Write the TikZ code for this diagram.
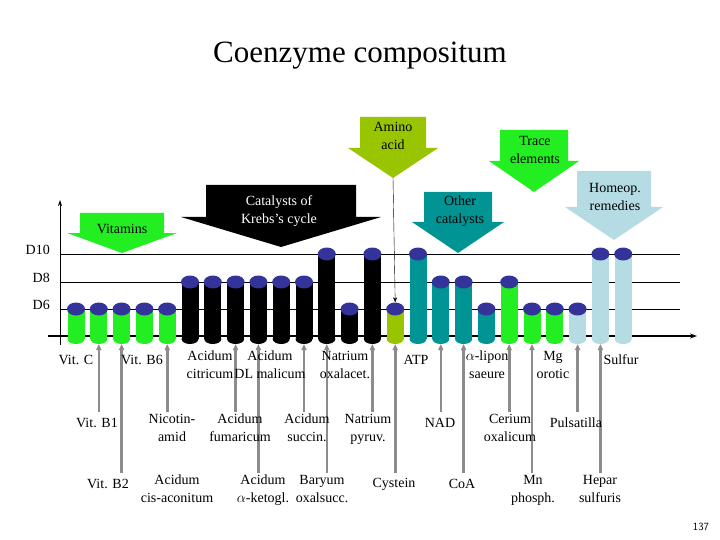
\documentclass[tikz,border=0pt]{standalone}
\usepackage{fontspec}
\setmainfont{Liberation Serif}
\usetikzlibrary{arrows.meta,shapes.geometric}
\definecolor{bgreen}{HTML}{22EE22}
\definecolor{ygreen}{HTML}{99C400}
\definecolor{tealc}{HTML}{009494}
\definecolor{lblue}{HTML}{B4DCE2}
\definecolor{capc}{HTML}{33339A}
\definecolor{garrow}{HTML}{8C8C8C}
\newcommand\blockarr[8]{% name, cx, shaft half, top, head start, head half, tip, color
  \fill[#8] (#2-#3,#4) -- (#2+#3,#4) -- (#2+#3,#5) -- (#2+#6,#5) -- (#2,#7) -- (#2-#6,#5) -- (#2-#3,#5) -- cycle;
  \coordinate (#1) at (#2,#7);}
\tikzset{lbl/.style={font=\fontsize{14}{18}\selectfont, align=center, inner sep=0pt},
  capball/.style={ellipse, fill=capc, minimum width=18pt, minimum height=13pt, inner sep=0pt},
  gup/.style={garrow, line width=2.6pt, -{Triangle[width=5pt,length=6pt]}},
  gridln/.style={line width=0.7pt}}
\begin{document}
\begin{tikzpicture}[x=1pt,y=-1pt]
\useasboundingbox (0,0) rectangle (720,540);
\node[font=\fontsize{31}{36}\selectfont] (title) at (360,56) {Coenzyme compositum};
% block arrows
\blockarr{vit}{122}{42}{213}{233}{55}{253}{bgreen}
\blockarr{kre}{281}{75}{185}{217}{100}{247}{black}
\blockarr{ami}{393}{33}{117}{148}{45}{178}{ygreen}
\blockarr{tra}{534}{34}{130}{161}{45}{192}{bgreen}
\blockarr{oth}{458}{34}{192}{222}{46}{253}{tealc}
\blockarr{hom}{614}{37}{171}{207}{49}{240}{lblue}
\node[lbl] (tvit) at (122,229) {Vitamins};
\node[lbl, text=white] (tkre) at (279,211) {Catalysts of\\Krebs's cycle};
\node[lbl] (tami) at (393,136) {Amino\\acid};
\node[lbl] (ttra) at (535,150) {Trace\\elements};
\node[lbl] (toth) at (460,211) {Other\\catalysts};
\node[lbl] (thom) at (615,197) {Homeop.\\remedies};
% grid and axes
\foreach \yy/\t in {254/D10,282/D8,309/D6}{
  \draw[gridln] (60,\yy) -- (680,\yy);
  \node[lbl, anchor=east] at (50,\yy-4) {\t};}
\coordinate (ytop) at (60,200);
\coordinate (ybot) at (60,345);
\coordinate (xl) at (48,336);
\coordinate (xr) at (697,336);
\draw[line width=0.8pt, -{Stealth[length=6pt,width=4pt]}] (ybot) -- (ytop);
\draw[line width=1.3pt, -{Stealth[length=7pt,width=5pt]}] (xl) -- (xr);
% bars
\foreach \i/\lv/\c in {1/309/bgreen,2/309/bgreen,3/309/bgreen,4/309/bgreen,5/309/bgreen,
  6/282/black,7/282/black,8/282/black,9/282/black,10/282/black,11/282/black,12/254/black,13/309/black,14/254/black,
  15/309/ygreen,16/254/tealc,17/282/tealc,18/282/tealc,19/309/tealc,20/282/bgreen,21/309/bgreen,22/309/bgreen,
  23/309/lblue,24/254/lblue,25/254/lblue}{
  \pgfmathsetmacro\xx{76+(\i-1)*22.8}
  \fill[\c] (\xx-8.5,\lv) rectangle (\xx+8.5,339);
  \fill[\c] (\xx,339) ellipse [x radius=8.5, y radius=5];
  \node[capball] (b\i) at (\xx,\lv) {};}
\draw[-{Stealth[length=5pt,width=4pt]}] (ami) -- (b15.north);
% gray arrows from labels
\foreach \i/\e in {2/412,3/473,5/412,8/412,9/473,11/412,12/473,14/412,15/473,17/412,18/473,20/412,21/473,23/412,24/473}{
  \pgfmathsetmacro\xx{76+(\i-1)*22.8}
  \coordinate (g\i) at (\xx,\e);
  \draw[gup] (g\i) -- (\xx,344);}
% labels row 1
\node[lbl] (l1) at (76,360) {Vit. C};
\node[lbl] (l4) at (142,360) {Vit. B6};
\node[lbl, anchor=north] (l6) at (210,351) {Acidum\\citricum};
\node[lbl, anchor=north] (l10) at (270,351) {Acidum\\DL malicum};
\node[lbl, anchor=north] (l13) at (345,351) {Natrium\\oxalacet.};
\node[lbl] (l16) at (416,360) {ATP};
\node[lbl, anchor=north] (l19) at (487,351) {$\alpha$-lipon\\saeure};
\node[lbl, anchor=north] (l22) at (553,351) {Mg\\orotic};
\node[lbl] (l25) at (621,360) {Sulfur};
% row 2
\node[lbl] (l2) at (97,423) {Vit. B1};
\node[lbl, anchor=north] (l5) at (172,414) {Nicotin-\\amid};
\node[lbl, anchor=north] (l8) at (240,414) {Acidum\\fumaricum};
\node[lbl, anchor=north] (l11) at (307,414) {Acidum\\succin.};
\node[lbl, anchor=north] (l14) at (368,414) {Natrium\\pyruv.};
\node[lbl] (l17) at (440,423) {NAD};
\node[lbl, anchor=north] (l20) at (510,414) {Cerium\\oxalicum};
\node[lbl] (l23) at (576,423) {Pulsatilla};
% row 3
\node[lbl] (l3) at (108,484) {Vit. B2};
\node[lbl, anchor=north] (l7) at (177,475) {Acidum\\cis-aconitum};
\node[lbl, anchor=north] (l9) at (263,475) {Acidum\\$\alpha$-ketogl.};
\node[lbl, anchor=north] (l12) at (322,475) {Baryum\\oxalsucc.};
\node[lbl] (l15) at (394,484) {Cystein};
\node[lbl] (l18) at (462,484) {CoA};
\node[lbl, anchor=north] (l21) at (533,475) {Mn\\phosph.};
\node[lbl, anchor=north] (l24) at (600,475) {Hepar\\sulfuris};
\node[font=\sffamily\fontsize{11}{13}\selectfont] (pg) at (701,527) {137};
\end{tikzpicture}
\end{document}
